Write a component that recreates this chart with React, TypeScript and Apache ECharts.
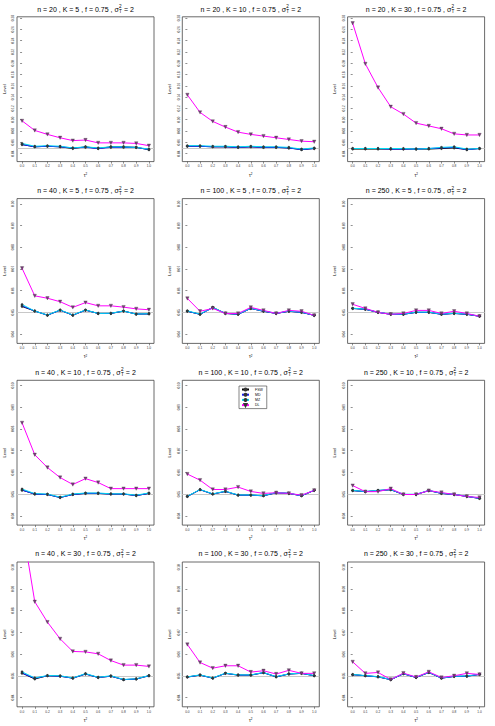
import React, { useEffect, useRef } from "react";
import * as echarts from "echarts";

const TAU = [0, 0.1, 0.2, 0.3, 0.4, 0.5, 0.6, 0.7, 0.8, 0.9, 1.0];
const Y_TICKS_TOP = [0.04, 0.06, 0.08, 0.1, 0.12, 0.14, 0.16, 0.18, 0.2, 0.22, 0.24, 0.26, 0.28];
const Y_TICKS = [0.04, 0.05, 0.06, 0.07, 0.08, 0.09, 0.1];
const PANEL_N = [20, 20, 20, 40, 100, 250, 40, 100, 250, 40, 100, 250];
const PANEL_K = [5, 10, 30, 5, 5, 5, 10, 10, 10, 30, 30, 30];
const METHODS = ["FSW", "MD", "MZ", "DL"];

// n = 20
const FSW_20_5 = [0.056, 0.052, 0.053, 0.052, 0.049, 0.052, 0.049, 0.052, 0.052, 0.051, 0.047];
const MD_20_5 = [0.056, 0.052, 0.053, 0.052, 0.05, 0.051, 0.049, 0.051, 0.051, 0.051, 0.047];
const MZ_20_5 = [0.058, 0.053, 0.054, 0.053, 0.05, 0.052, 0.05, 0.052, 0.052, 0.051, 0.048];
const DL_20_5 = [0.098, 0.081, 0.074, 0.068, 0.063, 0.064, 0.059, 0.059, 0.059, 0.058, 0.054];

const FSW_20_10 = [0.053, 0.053, 0.052, 0.052, 0.051, 0.052, 0.051, 0.051, 0.05, 0.047, 0.049];
const MD_20_10 = [0.053, 0.053, 0.052, 0.052, 0.051, 0.052, 0.051, 0.051, 0.05, 0.047, 0.049];
const MZ_20_10 = [0.054, 0.054, 0.053, 0.053, 0.052, 0.053, 0.052, 0.052, 0.051, 0.048, 0.05];
const DL_20_10 = [0.144, 0.113, 0.097, 0.087, 0.078, 0.074, 0.071, 0.068, 0.065, 0.062, 0.061];

const FSW_20_30 = [0.048, 0.048, 0.048, 0.048, 0.048, 0.048, 0.048, 0.049, 0.05, 0.047, 0.049];
const MD_20_30 = [0.049, 0.049, 0.049, 0.048, 0.048, 0.048, 0.049, 0.05, 0.051, 0.047, 0.049];
const MZ_20_30 = [0.049, 0.049, 0.049, 0.049, 0.049, 0.048, 0.049, 0.051, 0.052, 0.048, 0.049];
const DL_20_30 = [0.271, 0.199, 0.157, 0.123, 0.11, 0.094, 0.089, 0.084, 0.075, 0.073, 0.073];

// K = 5
const FSW_40_5 = [0.0527, 0.0506, 0.0487, 0.051, 0.0487, 0.051, 0.0495, 0.0495, 0.0506, 0.0492, 0.0493];
const MD_40_5 = [0.053, 0.0506, 0.0487, 0.051, 0.0487, 0.051, 0.0495, 0.0495, 0.0506, 0.0492, 0.0493];
const MZ_40_5 = [0.0536, 0.0506, 0.0488, 0.0511, 0.0488, 0.0511, 0.0495, 0.0496, 0.0506, 0.0492, 0.0494];
const DL_40_5 = [0.0703, 0.0576, 0.0565, 0.0549, 0.0523, 0.0545, 0.053, 0.053, 0.0524, 0.0516, 0.0512];

const FSW_100_5 = [0.0505, 0.0491, 0.0523, 0.0495, 0.0491, 0.0518, 0.0505, 0.0495, 0.0505, 0.05, 0.0486];
const MD_100_5 = [0.0505, 0.0491, 0.0521, 0.0495, 0.0491, 0.0518, 0.0505, 0.0495, 0.0505, 0.05, 0.0486];
const MZ_100_5 = [0.0507, 0.0492, 0.0523, 0.0496, 0.0492, 0.0519, 0.0506, 0.0496, 0.0506, 0.0501, 0.0487];
const DL_100_5 = [0.0564, 0.0505, 0.0518, 0.0495, 0.0495, 0.0523, 0.0509, 0.0495, 0.0509, 0.0505, 0.0486];

const FSW_250_5 = [0.0518, 0.0514, 0.05, 0.0491, 0.0491, 0.05, 0.05, 0.0491, 0.0495, 0.0491, 0.0482];
const MD_250_5 = [0.0518, 0.0514, 0.05, 0.0491, 0.0491, 0.05, 0.05, 0.0491, 0.0495, 0.0491, 0.0482];
const MZ_250_5 = [0.0519, 0.0515, 0.0501, 0.0492, 0.0492, 0.0501, 0.0501, 0.0492, 0.0496, 0.0492, 0.0483];
const DL_250_5 = [0.0537, 0.0518, 0.05, 0.0491, 0.0495, 0.0509, 0.0509, 0.0495, 0.0505, 0.0495, 0.0482];

// K = 10
const FSW_40_10 = [0.0518, 0.05, 0.0498, 0.0484, 0.0498, 0.0503, 0.0503, 0.05, 0.05, 0.0493, 0.0503];
const MD_40_10 = [0.0518, 0.05, 0.0498, 0.0484, 0.0498, 0.0503, 0.0503, 0.05, 0.05, 0.0493, 0.0503];
const MZ_40_10 = [0.0523, 0.0502, 0.05, 0.0486, 0.05, 0.0505, 0.0505, 0.0501, 0.0501, 0.0495, 0.0505];
const DL_40_10 = [0.0828, 0.0681, 0.0622, 0.0576, 0.0544, 0.0571, 0.0553, 0.0525, 0.0525, 0.0525, 0.0525];

const FSW_100_10 = [0.0489, 0.052, 0.05, 0.0512, 0.0495, 0.0495, 0.0492, 0.0506, 0.0503, 0.0492, 0.0517];
const MD_100_10 = [0.0489, 0.052, 0.05, 0.0512, 0.0495, 0.0495, 0.0492, 0.0506, 0.0503, 0.0492, 0.0517];
const MZ_100_10 = [0.049, 0.0521, 0.0501, 0.0513, 0.0496, 0.0496, 0.0493, 0.0507, 0.0504, 0.0493, 0.0518];
const DL_100_10 = [0.0592, 0.0564, 0.0521, 0.0521, 0.0532, 0.0512, 0.0503, 0.0506, 0.0503, 0.0495, 0.0517];

const FSW_250_10 = [0.0516, 0.0511, 0.0516, 0.052, 0.0498, 0.0498, 0.0516, 0.0503, 0.0498, 0.0489, 0.048];
const MD_250_10 = [0.0516, 0.0511, 0.0516, 0.052, 0.0498, 0.0498, 0.0516, 0.0503, 0.0498, 0.0489, 0.048];
const MZ_250_10 = [0.0517, 0.0512, 0.0517, 0.0521, 0.0499, 0.0499, 0.0517, 0.0504, 0.0499, 0.049, 0.0481];
const DL_250_10 = [0.0539, 0.0511, 0.0511, 0.0525, 0.0498, 0.0498, 0.0516, 0.0507, 0.0498, 0.0489, 0.0484];

// K = 30
const FSW_40_30 = [0.0512, 0.0485, 0.05, 0.0498, 0.0489, 0.0508, 0.0492, 0.0498, 0.0482, 0.0485, 0.05];
const MD_40_30 = [0.0512, 0.0488, 0.05, 0.0498, 0.0489, 0.0508, 0.0492, 0.0498, 0.0482, 0.0485, 0.05];
const MZ_40_30 = [0.0518, 0.049, 0.0501, 0.05, 0.049, 0.051, 0.0493, 0.05, 0.0483, 0.0486, 0.0501];
const DL_40_30 = [0.12, 0.0841, 0.0747, 0.067, 0.0612, 0.061, 0.0601, 0.057, 0.0549, 0.0549, 0.0543];

const FSW_100_30 = [0.0494, 0.0503, 0.0489, 0.0511, 0.0503, 0.0503, 0.0514, 0.0495, 0.0508, 0.0511, 0.05];
const MD_100_30 = [0.0494, 0.0503, 0.0489, 0.0511, 0.0503, 0.0503, 0.0514, 0.0495, 0.0508, 0.0511, 0.05];
const MZ_100_30 = [0.0495, 0.0504, 0.049, 0.0512, 0.0504, 0.0504, 0.0515, 0.0496, 0.0509, 0.0512, 0.0501];
const DL_100_30 = [0.0644, 0.0561, 0.0535, 0.0546, 0.0546, 0.0517, 0.0523, 0.0508, 0.0525, 0.0511, 0.0511];

const FSW_250_30 = [0.0505, 0.05, 0.0495, 0.0482, 0.0509, 0.0492, 0.0515, 0.0489, 0.0497, 0.0498, 0.0506];
const MD_250_30 = [0.0505, 0.05, 0.0495, 0.0482, 0.0509, 0.0492, 0.0515, 0.0489, 0.0497, 0.0498, 0.0506];
const MZ_250_30 = [0.0506, 0.0501, 0.0496, 0.0483, 0.051, 0.0493, 0.0516, 0.049, 0.0498, 0.0499, 0.0507];
const DL_250_30 = [0.0564, 0.0511, 0.0515, 0.0483, 0.0512, 0.0494, 0.0518, 0.0492, 0.05, 0.0511, 0.0506];

const PANEL_DATA = [
  [FSW_20_5, MD_20_5, MZ_20_5, DL_20_5],
  [FSW_20_10, MD_20_10, MZ_20_10, DL_20_10],
  [FSW_20_30, MD_20_30, MZ_20_30, DL_20_30],
  [FSW_40_5, MD_40_5, MZ_40_5, DL_40_5],
  [FSW_100_5, MD_100_5, MZ_100_5, DL_100_5],
  [FSW_250_5, MD_250_5, MZ_250_5, DL_250_5],
  [FSW_40_10, MD_40_10, MZ_40_10, DL_40_10],
  [FSW_100_10, MD_100_10, MZ_100_10, DL_100_10],
  [FSW_250_10, MD_250_10, MZ_250_10, DL_250_10],
  [FSW_40_30, MD_40_30, MZ_40_30, DL_40_30],
  [FSW_100_30, MD_100_30, MZ_100_30, DL_100_30],
  [FSW_250_30, MD_250_30, MZ_250_30, DL_250_30],
];

const COLORS = ["#000000", "#1a1aff", "#00d8f0", "#ff00ff"];
const FONT = "Liberation Sans";

function measure(text: string, size: number): number {
  const c = document.createElement("canvas").getContext("2d");
  if (!c) return text.length * size * 0.5;
  c.font = `${size}px "${FONT}"`;
  return c.measureText(text).width;
}

export default function App() {
  const ref = useRef<HTMLDivElement>(null);
  useEffect(() => {
    if (!ref.current) return;
    const chart = echarts.init(ref.current, undefined, { renderer: "svg" });
    const colLeft = [17, 182.3, 347.6];
    const boxW = 137;
    const rowTop = [16.8, 198.6, 380.3, 562];
    const boxH = 144.8;
    const grids: any[] = [];
    const xAxes: any[] = [];
    const yAxes: any[] = [];
    const series: any[] = [];
    const graphics: any[] = [];
    for (let p = 0; p < 12; p++) {
      const r = Math.floor(p / 3);
      const c = p % 3;
      grids.push({
        left: colLeft[c],
        top: rowTop[r],
        width: boxW,
        height: boxH,
        show: true,
        borderColor: "#444",
        borderWidth: 0.8,
        backgroundColor: "transparent",
        containLabel: false,
      });
      xAxes.push({
        type: "value",
        gridIndex: p,
        min: -0.04,
        max: 1.04,
        name: "τ{sup|2}",
        nameLocation: "middle",
        nameGap: 10.5,
        nameTextStyle: {
          fontSize: 4.5,
          fontFamily: FONT,
          color: "#000",
          rich: { sup: { fontSize: 3, verticalAlign: "top", fontFamily: FONT, padding: [0, 0, 3, 0] } },
        },
        axisLine: { show: false },
        axisTick: { show: true, length: 2, lineStyle: { color: "#444", width: 0.6 }, customValues: TAU },
        axisLabel: {
          show: true,
          fontSize: 3.2,
          fontFamily: FONT,
          color: "#333",
          margin: 3,
          customValues: TAU,
          formatter: (v: number) => v.toFixed(1),
        },
        splitLine: { show: false },
      });
      const top = r === 0;
      yAxes.push({
        type: "value",
        gridIndex: p,
        min: top ? 0.0258 : 0.0357,
        max: top ? 0.2824 : 0.1024,
        name: "Level",
        nameLocation: "middle",
        nameRotate: 90,
        nameGap: 11,
        nameTextStyle: { fontSize: 4, fontFamily: FONT, color: "#000" },
        axisLine: { show: false },
        axisTick: {
          show: true,
          length: 2,
          lineStyle: { color: "#444", width: 0.6 },
          customValues: top ? Y_TICKS_TOP : Y_TICKS,
        },
        axisLabel: {
          show: true,
          rotate: 90,
          fontSize: 3.2,
          fontFamily: FONT,
          color: "#333",
          margin: 2.5,
          customValues: top ? Y_TICKS_TOP : Y_TICKS,
          formatter: (v: number) => v.toFixed(2),
        },
        splitLine: { show: false },
      });
      const data = PANEL_DATA[p];
      for (let m = 0; m < 4; m++) {
        const isDL = m === 3;
        const s: any = {
          type: "line",
          name: METHODS[m],
          xAxisIndex: p,
          yAxisIndex: p,
          data: TAU.map((t, i) => [t, data[m][i]]),
          clip: true,
          lineStyle: { color: COLORS[m], width: 1 },
          symbol: isDL ? "triangle" : "circle",
          symbolRotate: isDL ? 180 : 0,
          symbolSize: isDL ? 3.4 : 2.4,
          showSymbol: true,
          itemStyle: {
            color: isDL ? "#7a3a7a" : "#2a3a40",
            borderColor: "#333",
            borderWidth: 0.3,
          },
          z: 3 + m,
          silent: true,
        };
        if (m === 0) {
          s.markLine = {
            silent: true,
            symbol: ["none", "none"],
            label: { show: false },
            lineStyle: { color: "#c8c8c8", width: 1, type: "solid" },
            data: [{ yAxis: 0.05 }],
            z: 1,
          };
        }
        series.push(s);
      }
      // Title
      const cx = colLeft[c] + boxW / 2;
      const ty = 9 + r * 181.6;
      const partA = `n = ${PANEL_N[p]} , K = ${PANEL_K[p]} , f = 0.75 , σ`;
      const partB = " = 2";
      const fs = 7;
      const wA = measure(partA, fs);
      const wS = measure("T", 4.6) + 0.4;
      const wB = measure(partB, fs);
      const x0 = cx - (wA + wS + wB) / 2;
      graphics.push({
        type: "text",
        x: x0,
        y: ty,
        style: { text: partA, fontSize: fs, fontFamily: FONT, fill: "#000", align: "left", verticalAlign: "middle" },
      });
      graphics.push({
        type: "text",
        x: x0 + wA + 0.3,
        y: ty - 2.6,
        style: { text: "2", fontSize: 4.6, fontFamily: FONT, fill: "#000", align: "left", verticalAlign: "middle" },
      });
      graphics.push({
        type: "text",
        x: x0 + wA + 0.3,
        y: ty + 2.4,
        style: { text: "T", fontSize: 4.6, fontFamily: FONT, fill: "#000", align: "left", verticalAlign: "middle" },
      });
      graphics.push({
        type: "text",
        x: x0 + wA + wS,
        y: ty,
        style: { text: partB, fontSize: fs, fontFamily: FONT, fill: "#000", align: "left", verticalAlign: "middle" },
      });
    }

    chart.setOption({
      animation: false,
      backgroundColor: "#ffffff",
      grid: grids,
      xAxis: xAxes,
      yAxis: yAxes,
      series,
      graphic: graphics,
      legend: {
        show: true,
        left: 239,
        top: 386,
        orient: "vertical",
        data: METHODS,
        itemGap: 1.2,
        itemWidth: 7,
        itemHeight: 2.5,
        padding: [1.5, 4, 1.5, 2],
        borderColor: "#333",
        borderWidth: 0.6,
        backgroundColor: "#fff",
        selectedMode: false,
        textStyle: { fontSize: 3.5, fontFamily: FONT, color: "#000", padding: [0, 0, 0, 1] },
      },
    });
    return () => chart.dispose();
  }, []);
  return <div ref={ref} style={{ width: 495, height: 726, position: "absolute", left: 0, top: 0 }} />;
}
